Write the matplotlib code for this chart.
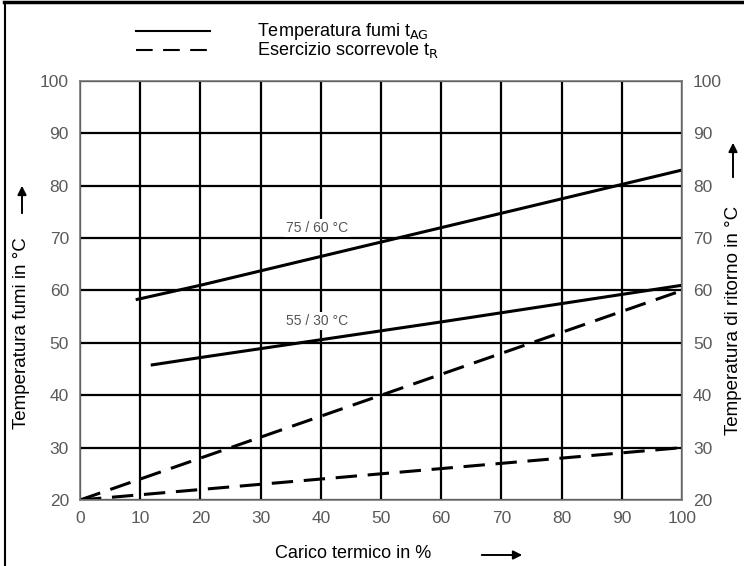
import matplotlib
matplotlib.use("Agg")
import matplotlib.pyplot as plt
from matplotlib.lines import Line2D
from matplotlib.patches import FancyArrowPatch

plt.rcParams['font.family'] = ['Liberation Sans', 'DejaVu Sans']

# carico termico (%) / temperature (°C)
load_7560 = [9.5, 20, 40, 60, 80, 100]
temp_7560 = [58.3, 61.0, 66.5, 72.0, 77.5, 83.0]

load_5530 = [12, 20, 40, 60, 80, 100]
temp_5530 = [45.8, 47.2, 50.6, 54.0, 57.5, 61.0]

load_ret1 = [0, 10, 20, 50, 80, 100]
ret_1 = [20, 24, 28, 40, 52, 60]

load_ret2 = [0, 50, 100]
ret_2 = [20, 25, 30]

ticks = [0, 10, 20, 30, 40, 50, 60, 70, 80, 90, 100]
yticks = [20, 30, 40, 50, 60, 70, 80, 90, 100]

W, H = 744, 566


def fx(px):
    return px / W


def fy(py):
    return 1 - py / H


fig = plt.figure(figsize=(7.44, 5.66), dpi=100)
ax = fig.add_axes([fx(80), fy(500), 602 / W, 419 / H])

ax.set_xlim(0, 100)
ax.set_ylim(20, 100)
ax.set_xticks(ticks)
ax.set_yticks(yticks)
ax.grid(True, color='black', linewidth=1.6)
ax.tick_params(length=0, labelsize=12.5, labelcolor='#5a5a5a', pad=8)
for s in ax.spines.values():
    s.set_color('#777777')
    s.set_linewidth(1.2)

ax.plot(load_7560, temp_7560, color='black', lw=2.2)
ax.plot(load_5530, temp_5530, color='black', lw=2.2)
ax.plot(load_ret1, ret_1, color='black', lw=2.2, dashes=(7, 3.5))
ax.plot(load_ret2, ret_2, color='black', lw=2.2, dashes=(7, 3.5))

box = dict(facecolor='white', edgecolor='none', pad=1.5)
ax.text(39.4, 72.0, '75 / 60 °C', fontsize=10, color='#555555', ha='center', va='center',
        bbox=box)
ax.text(39.4, 54.2, '55 / 30 °C', fontsize=10, color='#555555', ha='center', va='center',
        bbox=box)

ax2 = ax.twinx()
ax2.set_ylim(20, 100)
ax2.set_yticks(yticks)
ax2.tick_params(length=0, labelsize=12.5, labelcolor='#5a5a5a', pad=8)
for s in ax2.spines.values():
    s.set_visible(False)

# legend above the plot
fig.add_artist(Line2D([fx(136), fx(210)], [fy(31)] * 2, color='black', lw=1.5))
fig.add_artist(Line2D([fx(136), fx(210)], [fy(50)] * 2, color='black', lw=1.5,
                      dashes=(8, 5)))
fig.text(fx(257), fy(31), r'Temperatura fumi t$_{\mathrm{AG}}$', fontsize=13, va='center')
fig.text(fx(257), fy(50), r'Esercizio scorrevole t$_{\mathrm{R}}$', fontsize=13, va='center')

# axis labels
fig.text(fx(22), fy(333), 'Temperatura fumi in °C', rotation=90, fontsize=13.5,
         ha='center', va='center')
fig.text(fx(733), fy(320), 'Temperatura di ritorno in °C', rotation=90, fontsize=13.5,
         ha='center', va='center')
fig.text(fx(353), fy(553), 'Carico termico in %', fontsize=13, ha='center', va='center')

arrow_kw = dict(arrowstyle='-|>', mutation_scale=13, color='black', lw=1.4,
                transform=fig.transFigure)
fig.add_artist(FancyArrowPatch((fx(22), fy(216)), (fx(22), fy(183)), **arrow_kw))
fig.add_artist(FancyArrowPatch((fx(733), fy(180)), (fx(733), fy(140)), **arrow_kw))
fig.add_artist(FancyArrowPatch((fx(479), fy(555)), (fx(525), fy(555)), **arrow_kw))

# frame lines: only top and left edges
fig.add_artist(Line2D([fx(4), 1], [fy(2)] * 2, color='black', lw=2.5))
fig.add_artist(Line2D([fx(5)] * 2, [0, fy(2)], color='black', lw=1.5))

fig.savefig('out.png', dpi=100)
